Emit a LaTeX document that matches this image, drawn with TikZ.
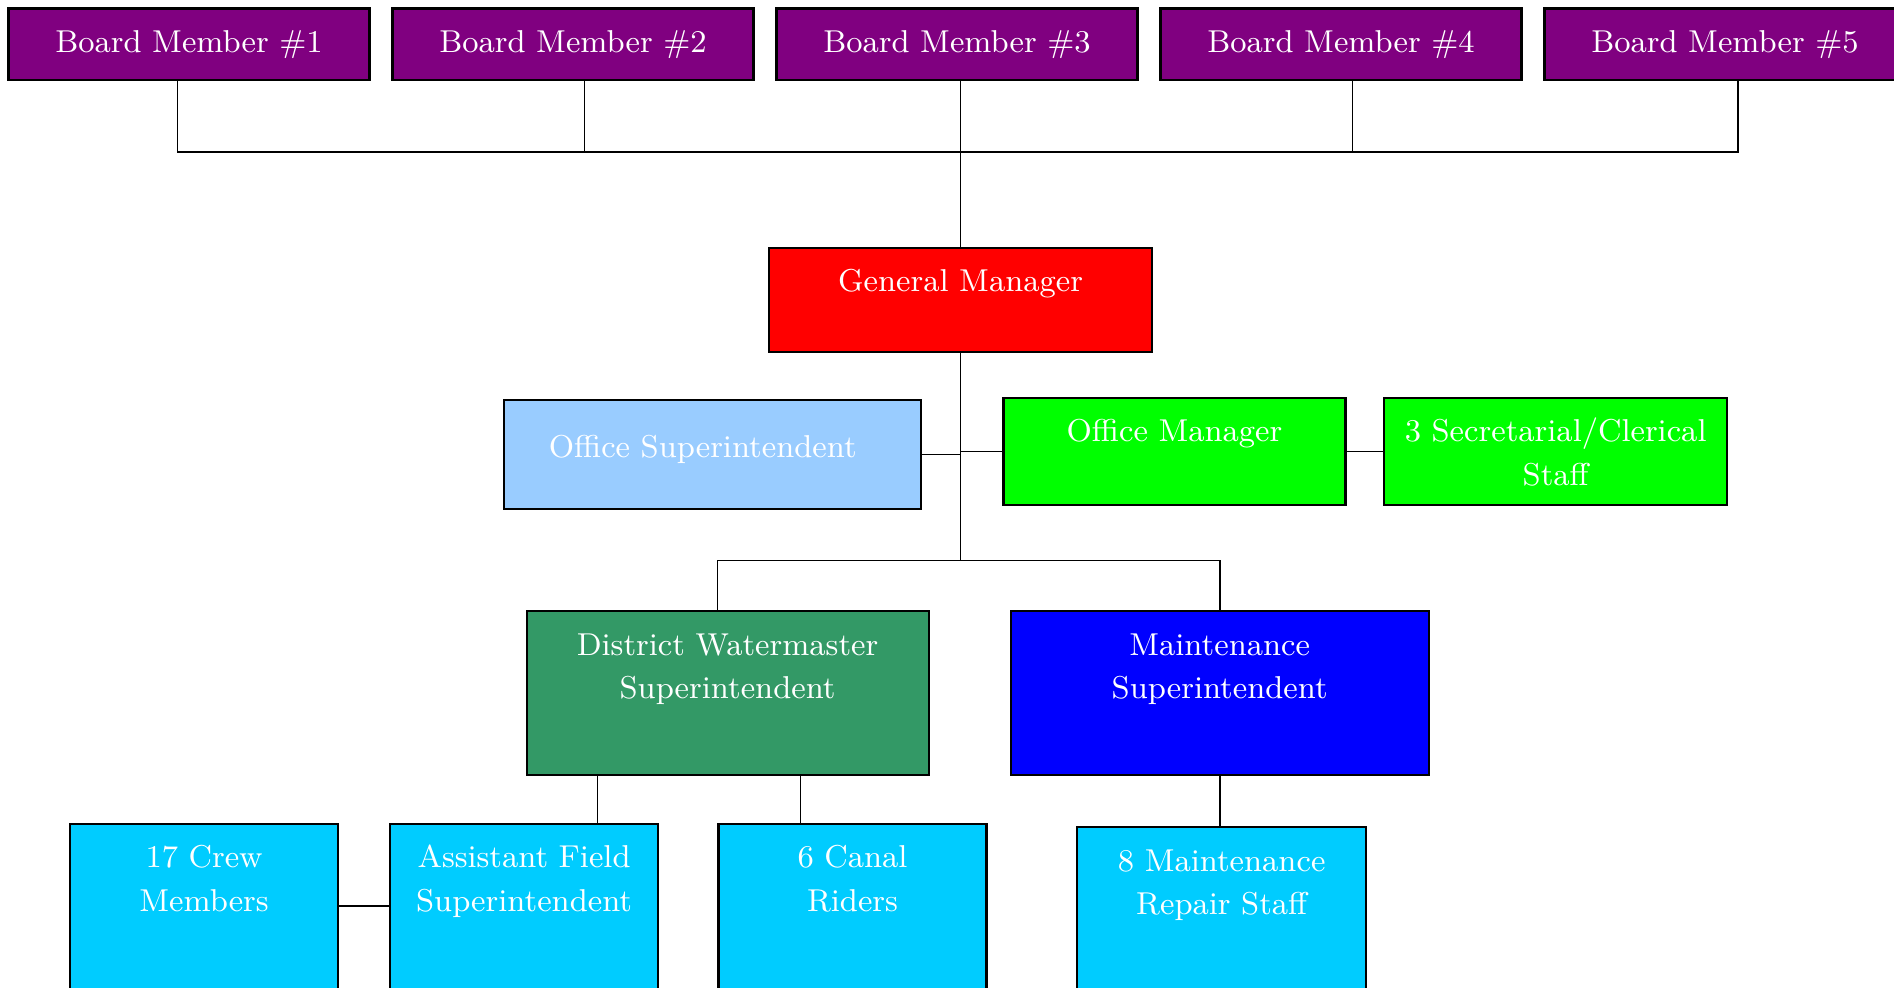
\documentclass[tikz,border=0pt]{standalone}
\usepackage{xcolor}
\usetikzlibrary{positioning}

\definecolor{boardpurple}{HTML}{800080}
\definecolor{gmred}{HTML}{FF0000}
\definecolor{officeblue}{HTML}{99CCFF}
\definecolor{officegreen}{HTML}{00FF00}
\definecolor{waterteal}{HTML}{339966}
\definecolor{maintblue}{HTML}{0000FF}
\definecolor{crewcyan}{HTML}{00CCFF}

\tikzset{
	unit/.style={draw=black, line width=0.6pt, text=white, inner sep=0pt, outer sep=0pt, align=center, font=\fontsize{9}{12.4}\selectfont, text height=0.44cm},
	board/.style={unit, fill=boardpurple, text width=3.61cm, text depth=0.272cm},
	staff/.style={unit, fill=crewcyan, text width=2.68cm, text depth=1.6cm},
	link/.style={line width=0.45pt},
}

\begin{document}
\begin{tikzpicture}
			\useasboundingbox (0,0) rectangle (18.94,-9.88);
			\clip (0,0) rectangle (18.94,-9.88);

			\node[board, anchor=north west] (b1) at (0.085,-0.085) {Board Member \#1};
			\node[board, right = 0.23cm of b1] (b2) {Board Member \#2};
			\node[board, right = 0.23cm of b2] (b3) {Board Member \#3};
			\node[board, right = 0.23cm of b3] (b4) {Board Member \#4};
			\node[board, right = 0.23cm of b4] (b5) {Board Member \#5};

			\node[unit, fill=gmred, text width=3.83cm, text depth=0.60cm, below = 1.68cm of b3, xshift=0.036cm] (gm) {General Manager};

			\node[unit, fill=officeblue, text width=4.17cm, text height=0.57cm, text depth=0.52cm, below left = 0.483cm and 0.393cm of gm.south] (os) {Office Superintendent\hspace*{0.2cm}};
			\node[unit, fill=officegreen, text width=3.42cm, text depth=0.635cm, below right = 0.459cm and 0.429cm of gm.south] (om) {Office Manager};
			\node[unit, fill=officegreen, text width=3.43cm, text depth=0.635cm, right = 0.387cm of om] (sec) {3 Secretarial/Clerical\\Staff};

			\node[unit, fill=waterteal, text width=4.02cm, text depth=1.20cm, below left = 2.597cm and 0.32cm of gm.south] (dws) {District Watermaster\\Superintendent};
			\node[unit, fill=maintblue, text width=4.18cm, text depth=1.20cm, below right = 2.597cm and 0.501cm of gm.south] (ms) {Maintenance\\Superintendent};

			\node[staff, below left = 0.483cm and 0.695cm of dws.south] (afs) {Assistant Field\\Superintendent};
			\node[staff, left = 0.52cm of afs] (crew) {17 Crew\\Members};
			\node[staff, right = 0.604cm of afs] (canal) {6 Canal\\Riders};
			\node[staff, text width=2.89cm, below = 0.519cm of ms, xshift=0.02cm] (m8) {8 Maintenance\\Repair Staff};

			\draw[link] ([xshift=-0.114cm]b1.south) -- ++(0,-0.725) -| ([xshift=0.127cm]b5.south);
			\draw[link] ([xshift=0.114cm]b2.south) -- ++(0,-0.725);
			\draw[link] ([xshift=0.115cm]b4.south) -- ++(0,-0.725);
			\draw[link] (gm.north) -- (gm.north |- b3.south);
			\draw[link] (gm.south) -- ++(0,-2.09);
			\draw[link] (os.east) -- (os.east -| gm.south);
			\draw[link] (om.west) -- (om.west -| gm.south);
			\draw[link] (om.east) -- (sec.west);
			\draw[link] ([xshift=-0.103cm]dws.north) -- ++(0,0.507) -| (ms.north);
			\draw[link] ([xshift=0.736cm]afs.north) -- ++(0,0.483);
			\draw[link] ([xshift=-0.52cm]canal.north) -- ++(0,0.483);
			\draw[link] (ms.south) -- (ms.south |- m8.north);
			\draw[link] ([yshift=-0.822cm]crew.north east) -- ([yshift=-0.822cm]afs.north west);
		\end{tikzpicture}
\end{document}
